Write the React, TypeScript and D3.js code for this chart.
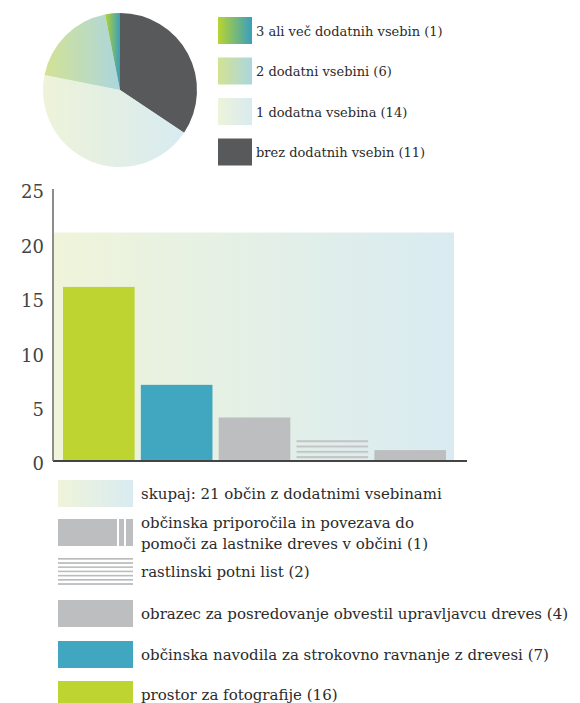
import * as d3 from 'd3'

// pie: share of municipalities by number of additional contents (clockwise from top)
const pieLabels = ['brez dodatnih vsebin (11)', '1 dodatna vsebina (14)', '2 dodatni vsebini (6)', '3 ali več dodatnih vsebin (1)']
const pieValues = [11, 14, 6, 1]
const pieFills = ['#58595b', 'url(#g1)', 'url(#g2)', 'url(#g3)']
// legend order on the right (top to bottom)
const pieLegendOrder = [3, 2, 1, 0]

// bars
const barKeys = ['foto', 'navodila', 'obrazec', 'potni', 'priporocila']
const barValues = [16, 7, 4, 2, 1]
const barFills = ['#bdd431', '#41a7c1', '#bcbec0', 'url(#hstripes)', '#bcbec0']
const totalWithExtras = 21
const yTicks = [0, 5, 10, 15, 20, 25]

// bottom legend
const legendLabels = [
  ['skupaj: 21 občin z dodatnimi vsebinami'],
  ['občinska priporočila in povezava do', 'pomoči za lastnike dreves v občini (1)'],
  ['rastlinski potni list (2)'],
  ['obrazec za posredovanje obvestil upravljavcu dreves (4)'],
  ['občinska navodila za strokovno ravnanje z drevesi (7)'],
  ['prostor za fotografije (16)'],
]
const legendKinds = ['bg', 'vstripes', 'hstripes', 'gray', 'blue', 'green']

const FONT = '"DejaVu Serif", serif'
const TEXT = '#2b2b2b'

export default function App() {
  const cx = 120
  const cy = 90
  const r = 77

  const arcs = d3.pie<number>().sort(null).value(d => d)(pieValues)
  const arcGen = d3.arc<d3.PieArcDatum<number>>().innerRadius(0).outerRadius(r)

  const x = d3.scaleBand<string>().domain(barKeys).range([63, 446]).paddingInner(0.08).paddingOuter(0)
  const y = d3.scaleLinear().domain([0, 25]).range([461, 189])

  const swatch = (kind: string, sx: number, sy: number, w: number, h: number) => {
    switch (kind) {
      case 'bg':
        return <rect x={sx} y={sy} width={w} height={h} fill="url(#gbg)" />
      case 'vstripes':
        return (
          <g>
            <rect x={sx} y={sy} width={w} height={h} fill="#bcbec0" />
            <rect x={sx + w - 16} y={sy} width={2} height={h} fill="#fff" />
            <rect x={sx + w - 9} y={sy} width={2} height={h} fill="#fff" />
          </g>
        )
      case 'hstripes':
        return <rect x={sx} y={sy} width={w} height={h} fill="url(#hstripes2)" />
      case 'gray':
        return <rect x={sx} y={sy} width={w} height={h} fill="#bcbec0" />
      case 'blue':
        return <rect x={sx} y={sy} width={w} height={h} fill="#41a7c1" />
      default:
        return <rect x={sx} y={sy} width={w} height={h} fill="#bdd431" />
    }
  }

  const legendRows = [480, 519, 558, 600, 641, 681]

  return (
    <svg width={580} height={703} style={{ position: 'absolute', left: 0, top: 0, background: '#fff' }}>
      <defs>
        <linearGradient id="g1" x1="0" y1="0" x2="1" y2="0">
          <stop offset="0%" stopColor="#eef3d9" />
          <stop offset="100%" stopColor="#d8ebf1" />
        </linearGradient>
        <linearGradient id="g2" x1="0" y1="0" x2="1" y2="0">
          <stop offset="0%" stopColor="#d3e293" />
          <stop offset="100%" stopColor="#acd6df" />
        </linearGradient>
        <linearGradient id="g3" x1="0" y1="0" x2="1" y2="0">
          <stop offset="0%" stopColor="#b8d433" />
          <stop offset="100%" stopColor="#3a9fbd" />
        </linearGradient>
        <linearGradient id="gbg" x1="0" y1="0" x2="1" y2="0">
          <stop offset="0%" stopColor="#eff4da" />
          <stop offset="100%" stopColor="#d9ebf2" />
        </linearGradient>
        <pattern id="hstripes" patternUnits="userSpaceOnUse" x={0} y={y(2) + 1} width={10} height={5.3}>
          <rect x={0} y={0} width={10} height={2} fill="#c2c4c6" />
        </pattern>
        <pattern id="hstripes2" patternUnits="userSpaceOnUse" x={0} y={legendRows[2]} width={10} height={4.2}>
          <rect x={0} y={0} width={10} height={1.6} fill="#b8babc" />
        </pattern>
      </defs>

      {/* pie */}
      <g transform={`translate(${cx},${cy})`}>
        {arcs.map((a, i) => (
          <path key={i} d={arcGen(a) || ''} fill={pieFills[i]} />
        ))}
      </g>

      {/* pie legend */}
      {pieLegendOrder.map((idx, i) => {
        const sy = 17 + i * 40.5
        return (
          <g key={i}>
            <rect x={218} y={sy} width={34} height={27} fill={pieFills[idx]} />
            <text x={256} y={sy + 14} dy="0.35em" fontFamily={FONT} fontSize={13} fill={TEXT}>
              {pieLabels[idx]}
            </text>
          </g>
        )
      })}

      {/* background total */}
      <rect x={54} y={y(totalWithExtras)} width={400} height={y(0) - y(totalWithExtras)} fill="url(#gbg)" />

      {/* axes */}
      <line x1={53} x2={467} y1={y(0)} y2={y(0)} stroke="#444" strokeWidth={2} />
      <line x1={53} x2={53} y1={y(25)} y2={y(0)} stroke="#666" strokeWidth={1.5} />
      {yTicks.map(t => (
        <text key={t} x={44} y={y(t) + 3} dy="0.35em" textAnchor="end" fontFamily={FONT} fontSize={18} fill="#444">
          {t}
        </text>
      ))}

      {/* bars */}
      {barKeys.map((k, i) => (
        <rect
          key={k}
          x={x(k)}
          y={y(barValues[i])}
          width={x.bandwidth()}
          height={y(0) - y(barValues[i]) - 1}
          fill={barFills[i]}
        />
      ))}

      {/* bottom legend */}
      {legendKinds.map((kind, i) => {
        const sy = legendRows[i]
        const lines = legendLabels[i]
        return (
          <g key={kind}>
            {swatch(kind, 58, sy, 75, 27)}
            {lines.map((ln, j) => (
              <text
                key={j}
                x={141}
                y={sy + 14 + (j - (lines.length - 1) / 2) * 21}
                dy="0.35em"
                fontFamily={FONT}
                fontSize={15}
                fill={TEXT}
              >
                {ln}
              </text>
            ))}
          </g>
        )
      })}
    </svg>
  )
}
